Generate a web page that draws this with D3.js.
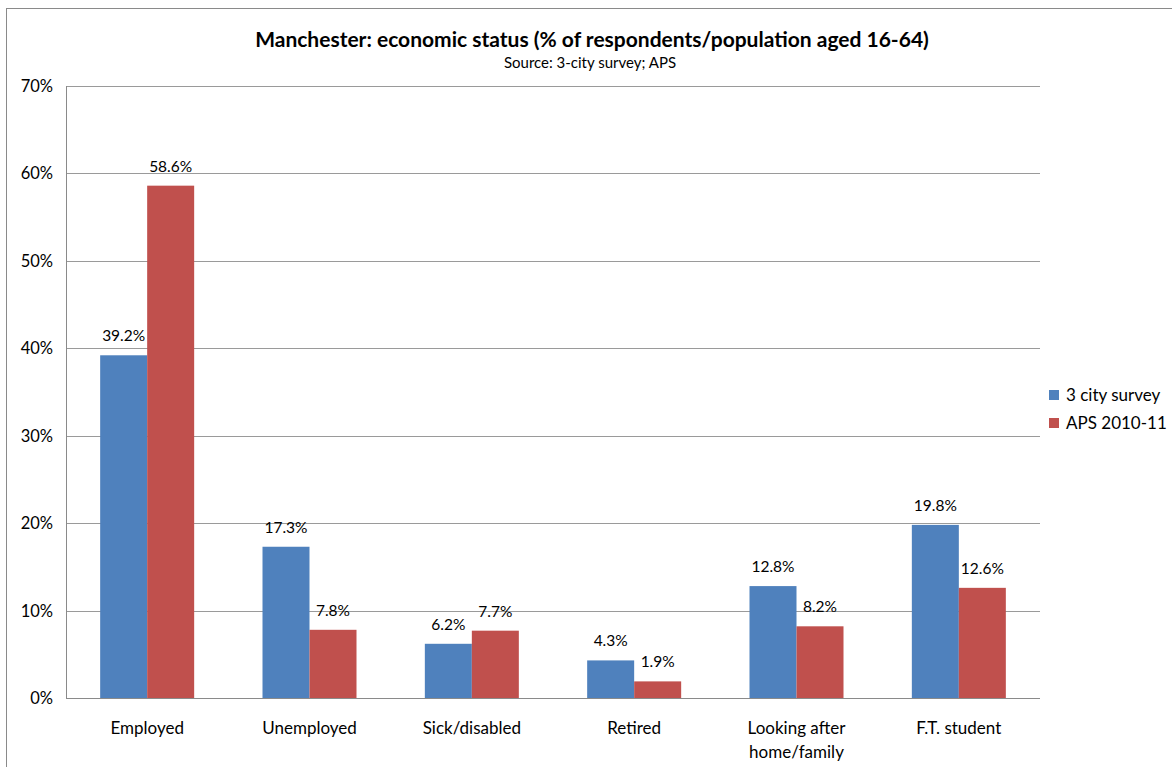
<!DOCTYPE html>
<html>
<head>
<meta charset="utf-8">
<script src="https://cdnjs.cloudflare.com/ajax/libs/d3/7.8.5/d3.min.js"></script>
<style>
  html, body { margin: 0; padding: 0; background: #fff; }
  svg { display: block; font-family: Lato, "Open Sans", sans-serif; }
</style>
</head>
<body>
<svg id="chart" width="1172" height="767"></svg>
<script>
// Economic status categories and shares (%)
const categories = ["Employed", "Unemployed", "Sick/disabled", "Retired", "Looking after home/family", "F.T. student"];
const categoryLines = [["Employed"], ["Unemployed"], ["Sick/disabled"], ["Retired"], ["Looking after", "home/family"], ["F.T. student"]];
const seriesNames = ["3 city survey", "APS 2010-11"];
const surveyValues = [39.2, 17.3, 6.2, 4.3, 12.8, 19.8];
const apsValues = [58.6, 7.8, 7.7, 1.9, 8.2, 12.6];
const yTicks = [0, 10, 20, 30, 40, 50, 60, 70];
const colors = ["#4f81bd", "#c0504d"];

const series = [surveyValues, apsValues];

const svg = d3.select("#chart");

// outer chart frame
svg.append("rect")
  .attr("x", 6.5).attr("y", 8.5)
  .attr("width", 1180).attr("height", 780)
  .attr("fill", "none").attr("stroke", "#8a8a8a").attr("stroke-width", 1);

const plot = { left: 66, right: 1040, top: 86, bottom: 698 };

const x = d3.scaleBand().domain(categories).range([plot.left, plot.right]).paddingInner(0).paddingOuter(0);
const xInner = d3.scaleBand().domain(d3.range(series.length)).range([0, x.bandwidth()]).paddingInner(0).paddingOuter(0.727);
const y = d3.scaleLinear().domain([0, 70]).range([plot.bottom, plot.top]);

// horizontal gridlines
svg.append("g").selectAll("line")
  .data(yTicks.filter(d => d > 0))
  .join("line")
  .attr("x1", plot.left).attr("x2", plot.right)
  .attr("y1", d => Math.round(y(d)) + 0.5).attr("y2", d => Math.round(y(d)) + 0.5)
  .attr("stroke", "#9a9a9a").attr("stroke-width", 1);

// y axis labels
svg.append("g").selectAll("text")
  .data(yTicks)
  .join("text")
  .attr("x", 53).attr("y", d => y(d) + 6)
  .attr("text-anchor", "end")
  .attr("font-size", 16.5).attr("fill", "#000")
  .text(d => d + "%");

// bars
const groups = svg.append("g").selectAll("g")
  .data(categories)
  .join("g")
  .attr("transform", d => `translate(${x(d)},0)`);

groups.selectAll("rect")
  .data((d, i) => series.map((s, k) => ({ k, v: s[i] })))
  .join("rect")
  .attr("x", d => xInner(d.k))
  .attr("width", xInner.bandwidth())
  .attr("y", d => y(d.v))
  .attr("height", d => y(0) - y(d.v))
  .attr("fill", d => colors[d.k]);

// value labels
groups.selectAll("text.val")
  .data((d, i) => series.map((s, k) => ({ k, v: s[i] })))
  .join("text")
  .attr("class", "val")
  .attr("x", d => xInner(d.k) + xInner.bandwidth() / 2)
  .attr("y", d => y(d.v) - 14)
  .attr("text-anchor", "middle")
  .attr("font-size", 15.5).attr("fill", "#000")
  .text(d => d.v.toFixed(1) + "%");

// axes lines
svg.append("line")
  .attr("x1", plot.left + 0.5).attr("x2", plot.left + 0.5)
  .attr("y1", plot.top).attr("y2", plot.bottom)
  .attr("stroke", "#8a8a8a");
svg.append("line")
  .attr("x1", plot.left).attr("x2", plot.right)
  .attr("y1", plot.bottom + 0.5).attr("y2", plot.bottom + 0.5)
  .attr("stroke", "#8a8a8a");

// category labels
const catText = svg.append("g").selectAll("text")
  .data(categories)
  .join("text")
  .attr("x", d => x(d) + x.bandwidth() / 2)
  .attr("y", 734)
  .attr("text-anchor", "middle")
  .attr("font-size", 17).attr("fill", "#000");
catText.selectAll("tspan")
  .data((d, i) => categoryLines[i])
  .join("tspan")
  .attr("x", function () { return d3.select(this.parentNode).attr("x"); })
  .attr("dy", (d, i) => i === 0 ? 0 : 24)
  .text(d => d);

// title
svg.append("text")
  .attr("x", 592).attr("y", 47)
  .attr("text-anchor", "middle")
  .attr("font-size", 21).attr("font-weight", "bold").attr("fill", "#000")
  .text("Manchester: economic status (% of respondents/population aged 16-64)");
svg.append("text")
  .attr("x", 590).attr("y", 68)
  .attr("text-anchor", "middle")
  .attr("font-size", 15).attr("fill", "#000")
  .text("Source: 3-city survey; APS");

// legend
const legend = svg.append("g").selectAll("g")
  .data(seriesNames)
  .join("g")
  .attr("transform", (d, i) => `translate(1049,${390 + i * 28})`);
legend.append("rect")
  .attr("width", 10).attr("height", 10)
  .attr("fill", (d, i) => colors[i]);
legend.append("text")
  .attr("x", 17).attr("y", 11)
  .attr("font-size", 17).attr("fill", "#000")
  .text(d => d);
</script>
</body>
</html>
